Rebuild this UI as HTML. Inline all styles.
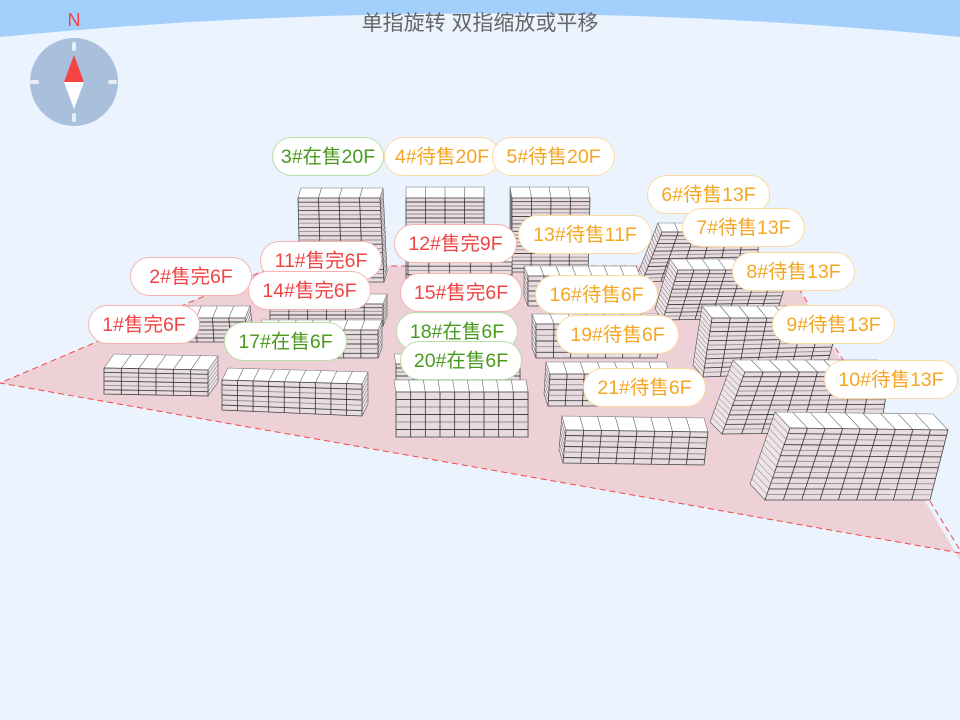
<!DOCTYPE html>
<html><head><meta charset="utf-8">
<style>
html,body{margin:0;padding:0;}
body{width:960px;height:720px;overflow:hidden;background:#ebf4fe;position:relative;font-family:"Liberation Sans","Noto Sans CJK SC",sans-serif;}
svg{position:absolute;left:0;top:0;}
.t{position:absolute;top:7px;left:0;width:960px;text-align:center;font-size:21px;color:#666;}
.p{position:absolute;height:39px;line-height:38px;border-radius:20px;background:#fff;text-align:center;font-size:19.5px;box-sizing:border-box;white-space:nowrap;}
.g{color:#4a9a1e;border:1px solid #b8dca4;}
.o{color:#f5a623;border:1px solid #fcd9a0;}
.r{color:#f04444;border:1px solid #f6b2b2;}
</style></head><body>
<svg id="s" width="960" height="720" viewBox="0 0 960 720">
<path d="M0,37 Q480,-10 960,37 L960,0 L0,0 Z" fill="#a3cffd"/>
<polygon points="0,383 275,266 785,266 960,560 960,553" fill="#eed1d7"/>
<polyline points="960,553 0,383 275,266 785,266 960,550" fill="none" stroke="#f04848" stroke-width="1" stroke-dasharray="6,4"/>
<circle cx="74" cy="82" r="44" fill="#a9c0dc"/>
<rect x="72" y="42" width="4" height="9" rx="2" fill="#e8eef6"/>
<rect x="72" y="113" width="4" height="9" rx="2" fill="#e8eef6"/>
<rect x="30" y="80" width="9" height="4" rx="2" fill="#e8eef6"/>
<rect x="108" y="80" width="9" height="4" rx="2" fill="#e8eef6"/>
<polygon points="74,55 64,82 84,82" fill="#f44444"/>
<polygon points="74,109 64,82 84,82" fill="#fff"/>
<text x="74" y="26" text-anchor="middle" font-size="18" fill="#f44444" font-family="Liberation Sans, sans-serif">N</text>
<g id="b"></g>
</svg>
<div class="t">单指旋转 双指缩放或平移</div>
<div class="p g" style="left:272px;top:137px;width:112px">3#在售20F</div>
<div class="p o" style="left:384px;top:137px;width:116px">4#待售20F</div>
<div class="p o" style="left:492px;top:137px;width:123px">5#待售20F</div>
<div class="p o" style="left:647px;top:175px;width:123px">6#待售13F</div>
<div class="p o" style="left:682px;top:208px;width:123px">7#待售13F</div>
<div class="p o" style="left:732px;top:252px;width:123px">8#待售13F</div>
<div class="p o" style="left:772px;top:305px;width:123px">9#待售13F</div>
<div class="p o" style="left:824px;top:360px;width:134px">10#待售13F</div>
<div class="p r" style="left:260px;top:241px;width:122px">11#售完6F</div>
<div class="p r" style="left:394px;top:224px;width:123px">12#售完9F</div>
<div class="p o" style="left:518px;top:215px;width:134px">13#待售11F</div>
<div class="p r" style="left:130px;top:257px;width:122px">2#售完6F</div>
<div class="p r" style="left:248px;top:271px;width:123px">14#售完6F</div>
<div class="p r" style="left:400px;top:273px;width:122px">15#售完6F</div>
<div class="p o" style="left:535px;top:275px;width:123px">16#待售6F</div>
<div class="p r" style="left:88px;top:305px;width:112px">1#售完6F</div>
<div class="p g" style="left:224px;top:322px;width:123px">17#在售6F</div>
<div class="p g" style="left:396px;top:312px;width:122px">18#在售6F</div>
<div class="p o" style="left:556px;top:315px;width:123px">19#待售6F</div>
<div class="p g" style="left:400px;top:341px;width:122px">20#在售6F</div>
<div class="p o" style="left:583px;top:368px;width:123px">21#待售6F</div>
<script>
var B=[
[[298,198],[380,198],[384,282],[300,282],[3,-10],4,20,'R'],
[[406,198],[484,198],[484,278],[406,278],[0,-11],4,20,'R'],
[[512,198],[590,198],[588,272],[512,272],[-2,-11],4,20,'L'],
[[662,232],[760,232],[755,278],[642,282],[-4,-9],6,13,'L'],
[[678,270],[790,270],[775,318],[663,320],[-8,-11],7,13,'L'],
[[712,318],[840,318],[825,372],[703,377],[-10,-12],7,13,'L'],
[[745,372],[890,372],[880,432],[722,434],[-12,-12],8,13,'L'],
[[408,262],[512,262],[512,300],[408,300],[0,-10],5,9,'R'],
[[528,276],[640,276],[636,306],[528,306],[-4,-10],7,6,'L'],
[[180,318],[245,318],[248,342],[180,342],[5,-12],4,6,'R'],
[[270,304],[383,304],[383,326],[270,326],[4,-10],6,6,'R'],
[[258,330],[378,330],[378,358],[258,358],[4,-10],7,6,'R'],
[[396,364],[520,364],[520,388],[396,388],[-2,-10],7,6,'R'],
[[536,324],[662,324],[657,358],[536,358],[-4,-10],7,6,'L'],
[[550,374],[670,374],[668,406],[548,406],[-4,-12],7,6,'L'],
[[104,368],[208,370],[208,396],[104,394],[10,-14],6,6,'R'],
[[222,380],[362,384],[362,416],[222,410],[6,-12],9,6,'R'],
[[396,392],[528,392],[528,437],[396,437],[-2,-12],9,6,'R'],
[[566,430],[708,432],[704,465],[563,463],[-4,-14],8,6,'L'],
[[790,428],[948,430],[930,500],[765,500],[-15,-16],9,13,'L']
];
function L(a,b,t){return [a[0]+(b[0]-a[0])*t,a[1]+(b[1]-a[1])*t];}
function P(p){return p.map(function(q){return q[0].toFixed(1)+','+q[1].toFixed(1)}).join(' ');}
function ad(a,t){return [a[0]+t[0],a[1]+t[1]];}
var h='';
B.forEach(function(b){
 var TL=b[0],TR=b[1],BR=b[2],BL=b[3],t=b[4],c=b[5],f=b[6],s=b[7];
 var s1,s2;
 if(s=='L'){s1=TL;s2=BL;}else{s1=TR;s2=BR;}
 h+='<polygon points="'+P([s1,ad(s1,t),ad(s2,t),s2])+'" fill="#eee4e8" stroke="#555" stroke-width="0.6"/>';
 for(var i=1;i<f;i++){var a=L(s1,s2,i/f);h+='<line x1="'+a[0]+'" y1="'+a[1]+'" x2="'+(a[0]+t[0])+'" y2="'+(a[1]+t[1])+'" stroke="#666" stroke-width="0.5"/>';}
 h+='<polygon points="'+P([TL,TR,ad(TR,t),ad(TL,t)])+'" fill="#fff" stroke="#777" stroke-width="0.6"/>';
 h+='<polygon points="'+P([TL,TR,BR,BL])+'" fill="#e8dce1" stroke="#444" stroke-width="0.8"/>';
 for(var i=1;i<f;i++){var a=L(TL,BL,i/f),e=L(TR,BR,i/f);h+='<line x1="'+a[0]+'" y1="'+a[1]+'" x2="'+e[0]+'" y2="'+e[1]+'" stroke="'+(i%2?'#444':'#9a8e92')+'" stroke-width="0.9"/>';}
 for(var i=1;i<c;i++){var a=L(TL,TR,i/c),e=L(BL,BR,i/c),g=ad(a,t);h+='<line x1="'+a[0]+'" y1="'+a[1]+'" x2="'+e[0]+'" y2="'+e[1]+'" stroke="#333" stroke-width="0.8"/><line x1="'+a[0]+'" y1="'+a[1]+'" x2="'+g[0]+'" y2="'+g[1]+'" stroke="#666" stroke-width="0.6"/>';}
});
document.getElementById('b').innerHTML=h;
</script>
</body></html>
